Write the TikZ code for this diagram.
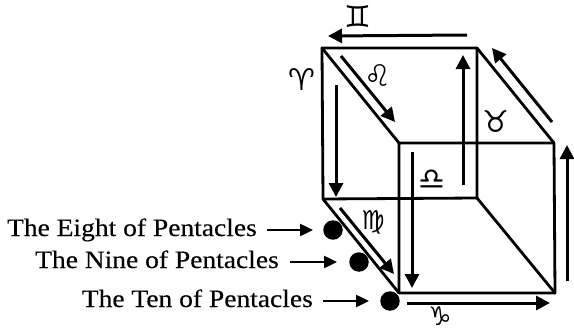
\documentclass[tikz,border=0pt]{standalone}
\usepackage{fontspec}
\setmainfont[FakeStretch=1.1,FakeBold=0.25]{Liberation Serif}
\newfontfamily\symfont{DejaVu Sans}
\usetikzlibrary{arrows.meta}
\tikzset{
  edge/.style={line width=2.8pt,line cap=round,line join=round},
  arr/.style={line width=3pt,-{Triangle[length=14pt,width=14pt]}},
  smallarr/.style={line width=2.2pt,-{Triangle[length=13pt,width=12pt]}},
  pent/.style={circle,fill=black,inner sep=0pt,minimum size=19.5pt},
  lab/.style={font=\fontsize{25}{28}\selectfont,anchor=base east,inner sep=0pt},
  zod/.style={font=\symfont\fontsize{30}{32}\selectfont,inner sep=0pt},
  zodsmall/.style={font=\symfont\fontsize{26}{28}\selectfont,inner sep=0pt}
}
\begin{document}
\begin{tikzpicture}[x=1pt,y=-1pt]
\useasboundingbox (0,0) rectangle (574,332);
% cube corners
\coordinate (btl) at (322,48);
\coordinate (btr) at (477,48);
\coordinate (bbl) at (323,199);
\coordinate (bbr) at (477,198);
\coordinate (ftl) at (399,143);
\coordinate (ftr) at (554,143);
\coordinate (fbl) at (399,293);
\coordinate (fbr) at (555,293);
\draw[edge] (btl) -- (btr) -- (bbr) -- (bbl) -- cycle;
\draw[edge] (ftl) -- (ftr) -- (fbr) -- (fbl) -- cycle;
\draw[edge] (btl) -- (ftl);
\draw[edge] (btr) -- (ftr);
\draw[edge] (bbl) -- (fbl);
\draw[edge] (bbr) -- (fbr);
% zodiac arrow ends
\coordinate (a1) at (467,35);   \coordinate (a2) at (328,36);
\coordinate (b1) at (341,56);   \coordinate (b2) at (395,122);
\coordinate (c1) at (336,85);   \coordinate (c2) at (336,197);
\coordinate (d1) at (552,122);  \coordinate (d2) at (492,48);
\coordinate (e1) at (463,185);  \coordinate (e2) at (463,55);
\coordinate (f1) at (412,152);  \coordinate (f2) at (412,288);
\coordinate (g1) at (567,281);  \coordinate (g2) at (567,145);
\coordinate (h1) at (340,208);  \coordinate (h2) at (394,274);
\coordinate (i1) at (407,303);  \coordinate (i2) at (550,303);
\foreach \s/\t in {a1/a2,b1/b2,c1/c2,d1/d2,e1/e2,f1/f2,g1/g2,h1/h2,i1/i2}
  \draw[arr] (\s) -- (\t);
% zodiac symbols
\node[zod] (gem) at (358,17) {♊};
\node[zod] (leo) at (378,76) {♌};
\node[zod] (ari) at (302,80) {♈};
\node[zod] (tau) at (496,122) {♉};
\node[zod] (lib) at (432,180) {♎};
\node[zodsmall] (vir) at (373,222) {♍};
\node[zodsmall] (cap) at (440,316) {♑};
% pentacles
\node[pent] (p8) at (333,230) {};
\node[pent] (p9) at (359,262) {};
\node[pent] (p10) at (390,301) {};
% labels
\node[lab] (l8) at (257,236) {The Eight of Pentacles};
\node[lab] (l9) at (279,268) {The Nine of Pentacles};
\node[lab] (l10) at (313,307) {The Ten of Pentacles};
\draw[smallarr,shorten <=10pt,shorten >=10pt] (l8.east |- p8) -- (p8);
\draw[smallarr,shorten <=11pt,shorten >=12pt] (l9.east |- p9) -- (p9);
\draw[smallarr,shorten <=10pt,shorten >=11pt] (l10.east |- p10) -- (p10);
\end{tikzpicture}
\end{document}
